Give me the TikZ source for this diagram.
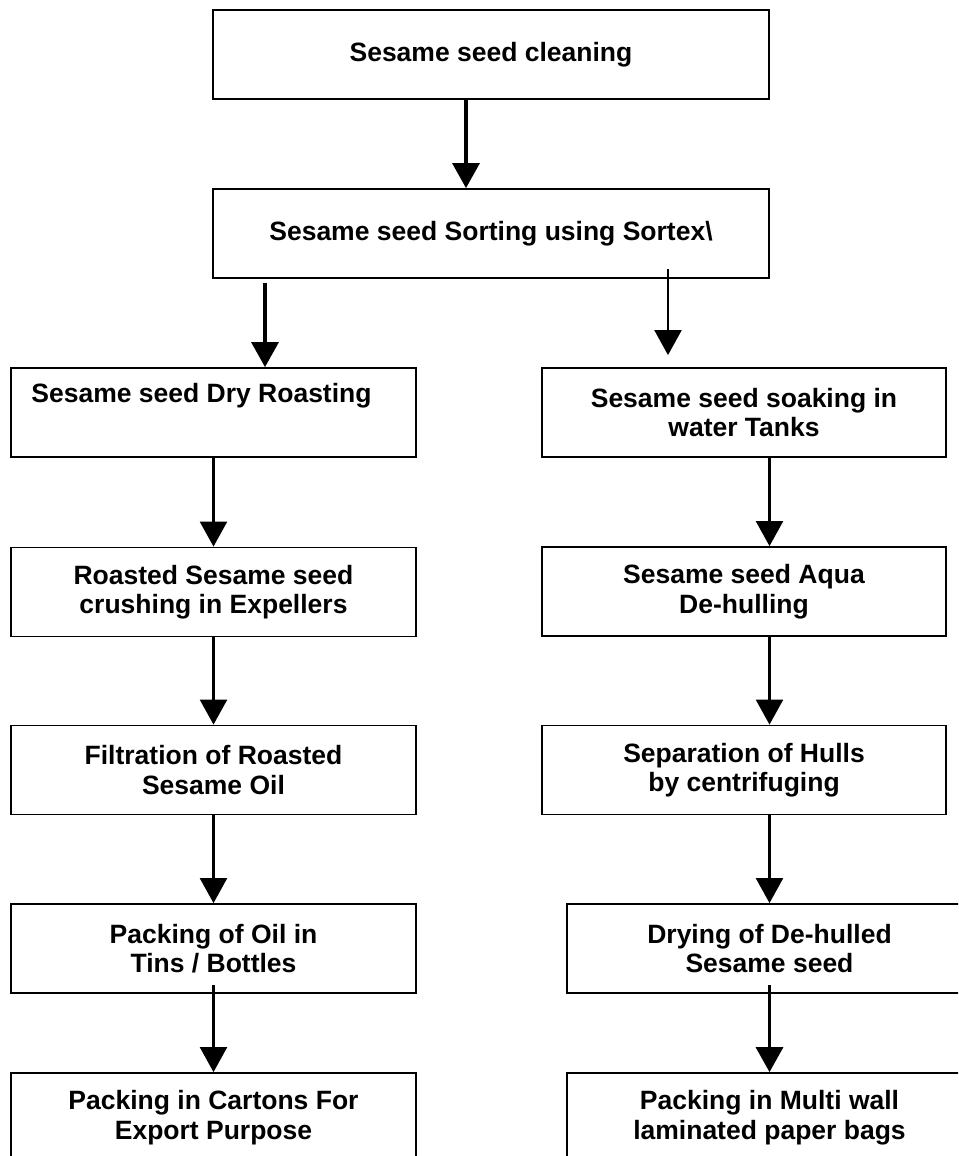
\documentclass[tikz,border=0pt]{standalone}
\usepackage{fontspec}
\setmainfont{Liberation Sans}
\usetikzlibrary{arrows.meta}
\begin{document}
\begin{tikzpicture}[x=1pt,y=-1pt,
  box/.style={draw=black, line width=1.8pt, rectangle, inner sep=0pt, align=center,
              font=\fontsize{26.5}{29.5}\selectfont\bfseries},
  lbox/.style={box, minimum width=405pt, minimum height=89pt},
  wbox/.style={box, minimum width=556pt, minimum height=89pt},
  arr/.style={-{Triangle[width=27pt,length=25pt]}, line width=2.3pt},
  tarr/.style={arr, line width=3.3pt}]
\useasboundingbox (0,0) rectangle (958,1156);
\clip (0,0) rectangle (958,1156);
\fill[white] (0,0) rectangle (958,1156);

\node[wbox] (b1) at (491,54.5) {Sesame seed cleaning};
\node[wbox] (b2) at (491,233.5) {Sesame seed Sorting using Sortex\textbackslash};

\node[lbox] (b3) at (213.5,412.5) {Sesame seed Dry Roasting\hspace*{24pt}\\ \strut};
\node[lbox] (b5) at (213.5,592) {Roasted Sesame seed\\crushing in Expellers};
\node[lbox] (b7) at (213.5,770) {Filtration of Roasted\\Sesame Oil};
\node[lbox] (b9) at (213.5,948.5) {Packing of Oil in\\Tins / Bottles};
\node[lbox] (b11) at (213.5,1117.5) {Packing in Cartons For\\Export Purpose};

\node[lbox, minimum width=404pt] (b4) at (744,412.5) {Sesame seed soaking in\\water Tanks};
\node[lbox, minimum width=404pt] (b6) at (744,591.5) {Sesame seed Aqua\\De-hulling};
\node[lbox, minimum width=404pt] (b8) at (744,770) {Separation of Hulls\\by centrifuging};
\node[lbox] (b10) at (769.5,948.5) {Drying of De-hulled\\Sesame seed};
\node[lbox] (b12) at (769.5,1117.5) {Packing in Multi wall\\laminated paper bags};

% top connectors
\draw[tarr] ([xshift=-25pt]b1.south) -- ([xshift=-25pt]b2.north);
\draw[tarr] ([xshift=-226pt,yshift=-4pt]b2.south) -- ([xshift=51.5pt]b3.north);
\draw[arr] ([xshift=177pt,yshift=10pt]b2.south) -- ([xshift=-76pt,yshift=12pt]b4.north);

% left column
\draw[arr] (b3.south) -- (b5.north);
\draw[arr] (b5.south) -- (b7.north);
\draw[arr] (b7.south) -- (b9.north);
\draw[arr] ([yshift=9pt]b9.south) -- (b11.north);

% right column
\draw[arr] (b4.south -| b10) -- (b6.north -| b10);
\draw[arr] (b6.south -| b10) -- (b8.north -| b10);
\draw[arr] (b8.south -| b10) -- (b10.north);
\draw[tarr] ([yshift=9pt]b10.south) -- (b12.north);
\end{tikzpicture}
\end{document}
